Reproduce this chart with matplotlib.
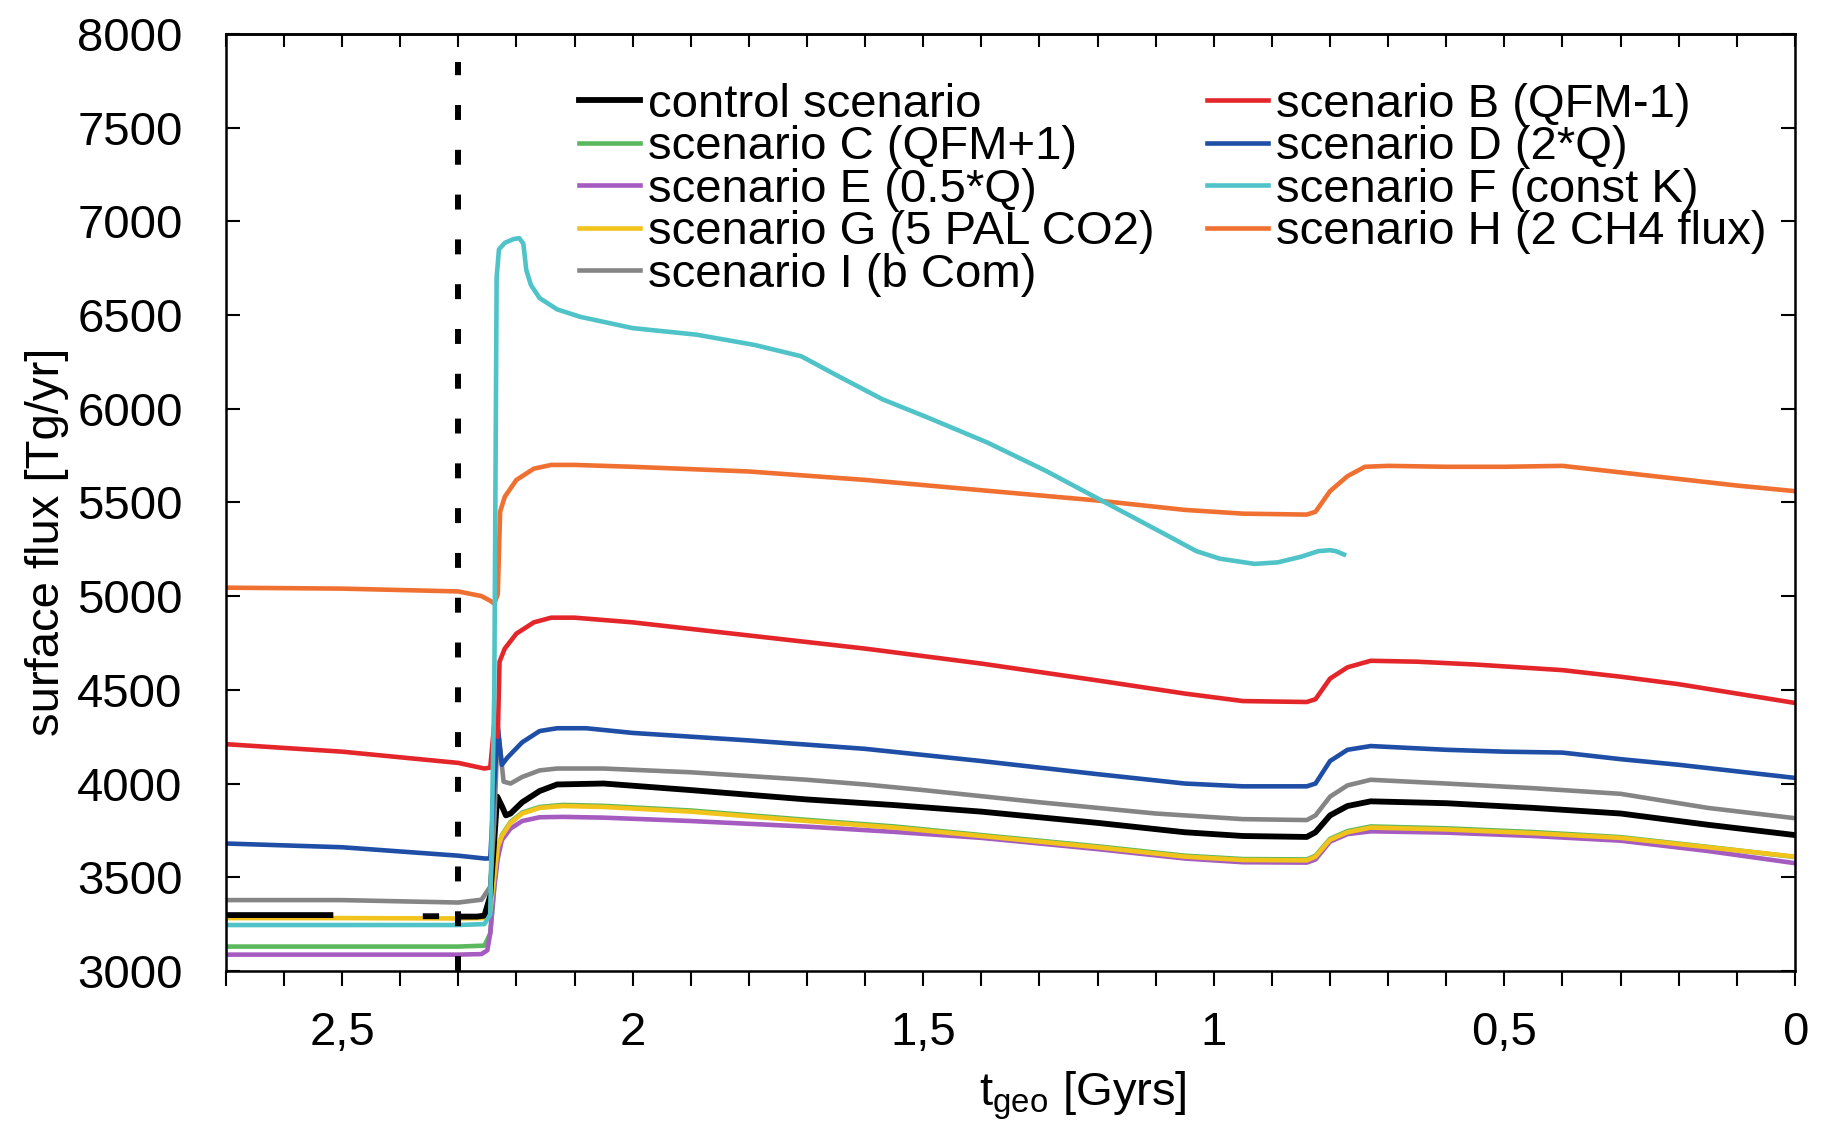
import matplotlib
matplotlib.use("Agg")
import matplotlib.pyplot as plt
import numpy as np

plt.rcParams['font.family'] = ['Liberation Sans', 'DejaVu Sans']
plt.rcParams['mathtext.default'] = 'regular'

nan = np.nan

# time before present [Gyr] and surface flux [Tg/yr] for each run
t_control = [2.70, 2.52, nan, 2.356, 2.338, nan, 2.298, 2.268, 2.255, 2.245, 2.238, 2.233, 2.225,
             2.218, 2.21, 2.19, 2.16, 2.13, 2.05, 1.90, 1.70, 1.55, 1.40, 1.20, 1.05, 0.95, 0.84,
             0.825, 0.80, 0.77, 0.73, 0.60, 0.45, 0.30, 0.15, 0.00]
v_control = [3298, 3298, nan, 3292, 3292, nan, 3290, 3290, 3295, 3400, 3700, 3930, 3880,
             3830, 3840, 3900, 3960, 3995, 4000, 3965, 3915, 3885, 3850, 3790, 3740, 3720, 3715,
             3740, 3830, 3880, 3905, 3895, 3870, 3840, 3780, 3725]

t_B = [2.70, 2.50, 2.30, 2.255, 2.245, 2.238, 2.232, 2.229, 2.22, 2.20, 2.17, 2.14, 2.10, 2.00,
       1.80, 1.60, 1.40, 1.20, 1.05, 0.95, 0.84, 0.825, 0.80, 0.77, 0.73, 0.65, 0.55, 0.45, 0.40,
       0.30, 0.20, 0.10, 0.00]
v_B = [4210, 4170, 4110, 4080, 4085, 4320, 4250, 4650, 4720, 4800, 4860, 4885, 4885, 4860,
       4790, 4720, 4640, 4550, 4480, 4440, 4435, 4450, 4560, 4620, 4655, 4650, 4635, 4615, 4605,
       4570, 4530, 4480, 4430]

t_D = [2.70, 2.50, 2.30, 2.255, 2.245, 2.238, 2.232, 2.225, 2.215, 2.19, 2.16, 2.13, 2.08, 2.00,
       1.80, 1.60, 1.40, 1.20, 1.05, 0.95, 0.84, 0.825, 0.80, 0.77, 0.73, 0.60, 0.50, 0.40, 0.30,
       0.20, 0.10, 0.00]
v_D = [3680, 3660, 3615, 3600, 3600, 4000, 4300, 4100, 4140, 4220, 4280, 4295, 4295, 4270,
       4230, 4185, 4120, 4050, 4000, 3985, 3985, 4000, 4120, 4180, 4200, 4180, 4170, 4165, 4130,
       4100, 4065, 4030]

t_I = [2.70, 2.50, 2.30, 2.26, 2.245, 2.238, 2.232, 2.222, 2.21, 2.19, 2.16, 2.13, 2.05, 1.90,
       1.70, 1.60, 1.50, 1.30, 1.10, 0.95, 0.84, 0.825, 0.80, 0.77, 0.73, 0.60, 0.45, 0.30, 0.15,
       0.00]
v_I = [3378, 3378, 3365, 3380, 3450, 3800, 4300, 4010, 4000, 4035, 4070, 4080, 4080, 4060,
       4020, 3995, 3965, 3900, 3840, 3810, 3805, 3830, 3930, 3990, 4020, 4000, 3975, 3945, 3870,
       3815]

t_G = [2.70, 2.50, 2.30, 2.255, 2.245, 2.238, 2.232, 2.225, 2.21, 2.19, 2.16, 2.12, 2.05, 1.90,
       1.70, 1.55, 1.40, 1.20, 1.05, 0.95, 0.84, 0.825, 0.80, 0.77, 0.73, 0.60, 0.45, 0.30, 0.15,
       0.00]
v_G = [3282, 3282, 3280, 3282, 3320, 3500, 3660, 3720, 3790, 3840, 3870, 3880, 3875, 3850,
       3800, 3765, 3720, 3660, 3610, 3592, 3590, 3610, 3700, 3740, 3765, 3755, 3735, 3710, 3660,
       3610]

t_C = [2.70, 2.50, 2.30, 2.255, 2.245, 2.238, 2.232, 2.225, 2.21, 2.19, 2.16, 2.12, 2.05, 1.90,
       1.70, 1.55, 1.40, 1.20, 1.05, 0.95, 0.84, 0.825, 0.80, 0.77, 0.73, 0.60, 0.45, 0.30, 0.15,
       0.00]
v_C = [3130, 3130, 3130, 3135, 3200, 3450, 3650, 3725, 3795, 3845, 3875, 3886, 3881, 3856,
       3806, 3771, 3725, 3665, 3615, 3597, 3595, 3615, 3705, 3746, 3771, 3761, 3741, 3714, 3662,
       3608]

t_E = [2.70, 2.50, 2.30, 2.26, 2.25, 2.245, 2.238, 2.232, 2.225, 2.21, 2.19, 2.16, 2.12, 2.05,
       1.90, 1.70, 1.55, 1.40, 1.20, 1.05, 0.95, 0.84, 0.825, 0.80, 0.77, 0.73, 0.60, 0.45, 0.30,
       0.15, 0.00]
v_E = [3087, 3087, 3087, 3090, 3110, 3200, 3450, 3600, 3698, 3760, 3800, 3820, 3822, 3818,
       3800, 3770, 3742, 3710, 3650, 3600, 3580, 3578, 3595, 3690, 3730, 3745, 3738, 3720, 3695,
       3640, 3575]

t_F = [2.70, 2.50, 2.30, 2.255, 2.245, 2.238, 2.234, 2.23, 2.22, 2.205, 2.195, 2.188, 2.183,
       2.175, 2.16, 2.13, 2.09, 2.00, 1.89, 1.79, 1.71, 1.65, 1.57, 1.49, 1.39, 1.29, 1.19, 1.09,
       1.03, 0.99, 0.93, 0.89, 0.85, 0.82, 0.80, 0.79, 0.776]
v_F = [3245, 3245, 3245, 3250, 3300, 4500, 6700, 6850, 6885, 6905, 6910, 6880, 6740,
       6660, 6590, 6530, 6490, 6430, 6395, 6340, 6280, 6180, 6050, 5950, 5820, 5670, 5505, 5340,
       5240, 5200, 5172, 5180, 5210, 5240, 5245, 5240, 5222]

t_H = [2.70, 2.50, 2.30, 2.26, 2.245, 2.238, 2.232, 2.228, 2.22, 2.20, 2.17, 2.14, 2.10, 2.00,
       1.80, 1.60, 1.40, 1.20, 1.05, 0.95, 0.84, 0.825, 0.80, 0.77, 0.74, 0.70, 0.60, 0.50, 0.40,
       0.30, 0.20, 0.10, 0.00]
v_H = [5045, 5040, 5025, 5000, 4975, 4960, 5010, 5450, 5530, 5620, 5680, 5700, 5700, 5690,
       5665, 5620, 5565, 5510, 5460, 5440, 5435, 5450, 5560, 5640, 5690, 5695, 5690, 5690, 5695,
       5660, 5625, 5590, 5560]

t_marker = 2.3

x_major = [0, 0.5, 1, 1.5, 2, 2.5]
x_labels = ["0", "0,5", "1", "1,5", "2", "2,5"]
y_major = np.arange(3000, 8001, 500)

fig = plt.figure(figsize=(18.21, 11.29), dpi=100)
ax = fig.add_axes([0.124, 0.140, 0.8617, 0.830])

lw = 3.3
l_C, = ax.plot(t_C, v_C, color='#5cb85c', lw=lw, label='scenario C (QFM+1)')
l_E, = ax.plot(t_E, v_E, color='#a55bbf', lw=lw, label='scenario E (0.5*Q)')
l_G, = ax.plot(t_G, v_G, color='#f2c31b', lw=lw, label='scenario G (5 PAL CO2)')
l_ctl, = ax.plot(t_control, v_control, color='black', lw=4.2, label='control scenario')
l_I, = ax.plot(t_I, v_I, color='#858585', lw=lw, label='scenario I (b Com)')
l_D, = ax.plot(t_D, v_D, color='#1f4ea6', lw=lw, label='scenario D (2*Q)')
l_B, = ax.plot(t_B, v_B, color='#e4262b', lw=lw, label='scenario B (QFM-1)')
l_H, = ax.plot(t_H, v_H, color='#f07032', lw=lw, label='scenario H (2 CH4 flux)')
l_F, = ax.plot(t_F, v_F, color='#4fc3c8', lw=lw, label='scenario F (const K)')

ax.axvline(t_marker, ymax=0.97, color='black', lw=4.3, linestyle=(0, (2.5, 5.0)))

ax.set_xlim(2.7, 0)
ax.set_ylim(3000, 8000)

ax.set_xticks(x_major)
ax.set_xticklabels(x_labels)
ax.set_xticks(np.arange(0, 2.71, 0.1), minor=True)
ax.set_yticks(y_major)
ax.tick_params(axis='x', which='both', direction='out', length=11, width=1.5,
               labelsize=34, pad=18)
ax.tick_params(axis='y', which='both', direction='in', length=10, width=1.5,
               labelsize=34, pad=31, right=True)

top = ax.secondary_xaxis('top')
top.set_xticks(np.arange(0, 2.71, 0.1))
top.tick_params(direction='in', length=9, width=1.5, labeltop=False)
top.spines['top'].set_linewidth(1.8)

for sp in ax.spines.values():
    sp.set_linewidth(1.8)

ax.set_ylabel('surface flux [Tg/yr]', fontsize=34)
ax.yaxis.set_label_coords(-0.100, 0.458)
ax.set_xlabel(r'$t_{geo}$ [Gyrs]', fontsize=34)
ax.xaxis.set_label_coords(0.546, -0.105)

handles = [l_ctl, l_C, l_E, l_G, l_I, l_B, l_D, l_F, l_H]
ax.legend(handles=handles, labels=[h.get_label() for h in handles], ncol=2,
          loc='upper left', bbox_to_anchor=(0.225, 0.948), frameon=False,
          fontsize=34, borderpad=0, borderaxespad=0, labelspacing=-0.03,
          handlelength=1.3, handletextpad=0.17, columnspacing=1.1)

fig.savefig('out.png', dpi=100)
